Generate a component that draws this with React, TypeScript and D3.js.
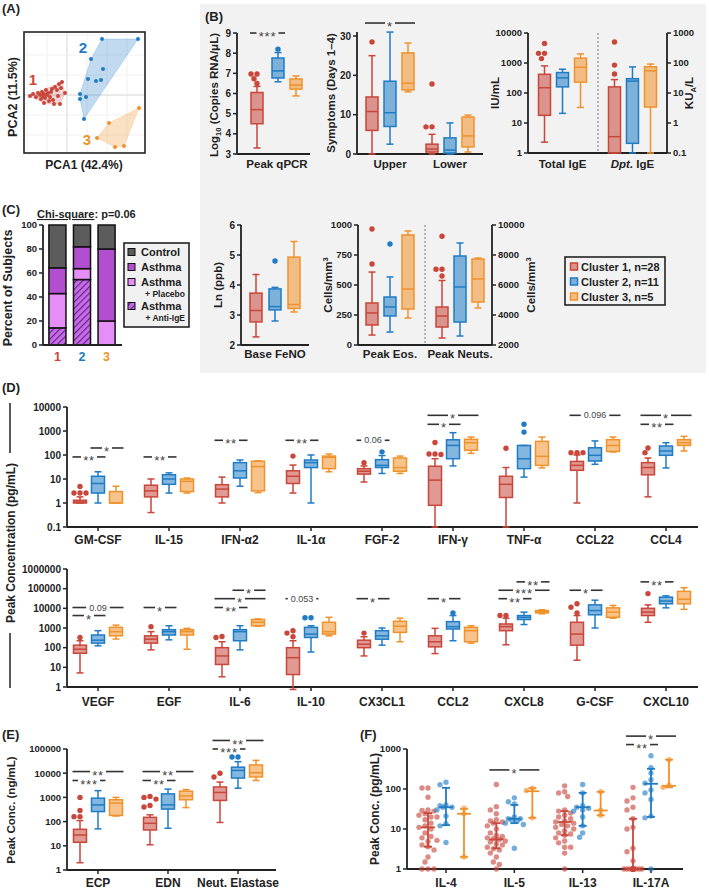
import React from 'react';
import * as d3 from 'd3';

const FONT = '"Liberation Sans", Arial, Helvetica, sans-serif';
const AX = '#222';
const RED = '#c8463a';
const BLUE = '#1f7bc4';
const ORANGE = '#f0922b';
const CL = [RED, BLUE, ORANGE];
const CLUSTERS = ['1', '2', '3'];

type S = { lo: number; q1: number; med: number; q3: number; hi: number; out?: number[] };
type Sg = { c: number; a: number; b: number; v: number; t: string };

// ---------------- Panel A (PCA scores) ----------------
const pcaRed: [number, number][] = [[-1.85,-0.05],[-1.7,0.05],[-1.55,-0.1],[-1.45,0.1],[-1.35,0],[-1.3,-0.2],[-1.25,0.15],[-1.2,-0.05],[-1.15,0.05],[-1.1,-0.15],[-1.05,0.25],[-1,0],[-0.95,0.1],[-0.9,-0.3],[-0.85,-0.1],[-0.8,0.15],[-0.75,0.3],[-0.7,-0.25],[-0.65,-0.45],[-0.6,0.4],[-0.5,0.25],[-0.45,-0.05],[-0.4,0.55],[-0.35,-0.45],[-0.3,0.35],[-0.25,0.65],[-0.1,0.1],[-1.15,-0.4]];
const pcaBlue: [number, number][] = [[1.75,2.8],[3.55,2.8],[1.2,1.8],[1.8,1.3],[1.05,0.8],[1.45,0.7],[1.7,0.75],[0.65,0.05],[0.95,-0.1],[0.65,-0.2],[0.85,-1.2]];
const pcaOrange: [number, number][] = [[1.5,-2.15],[2.1,-1.4],[2.4,-2.6],[2.85,-2.55],[3.6,-0.65]];
const pcaLabelPos: [number, number][] = [[-1.7,0.75],[0.8,2.35],[1.0,-2.25]];

// ---------------- Panel B ----------------
const qpcrStats: S[] = [
  { lo: 3.3, q1: 4.5, med: 5.2, q3: 6.05, hi: 6.35, out: [6.5, 6.73, 6.97, 6.97] },
  { lo: 6.58, q1: 6.77, med: 7.12, q3: 7.76, hi: 8.03, out: [8.2] },
  { lo: 5.88, q1: 6.22, med: 6.42, q3: 6.72, hi: 6.87 },
];
const symUpper: S[] = [
  { lo: 0, q1: 6, med: 10.8, q3: 14.5, hi: 25, out: [28.5] },
  { lo: 2.5, q1: 7, med: 10.5, q3: 18.5, hi: 31 },
  { lo: 15.8, q1: 16.3, med: 18, q3: 25.7, hi: 28.2 },
];
const symLower: S[] = [
  { lo: 0, q1: 0.5, med: 1.25, q3: 2.5, hi: 5, out: [6.9, 6.9, 17.8] },
  { lo: 0, q1: 0.25, med: 1, q3: 4.1, hi: 7.9 },
  { lo: 0.5, q1: 1.8, med: 4.6, q3: 9.4, hi: 9.9 },
];
const totalIgE: S[] = [
  { lo: 2.3, q1: 18, med: 150, q3: 420, hi: 800, out: [1400, 2100, 2100, 4500] },
  { lo: 21, q1: 160, med: 320, q3: 480, hi: 620 },
  { lo: 33, q1: 230, med: 720, q3: 1450, hi: 2000 },
];
const dptIgE: S[] = [
  { lo: 0.1, q1: 0.1, med: 0.35, q3: 16, hi: 28, out: [43, 85, 500] },
  { lo: 0.1, q1: 0.21, med: 25, q3: 30, hi: 74 },
  { lo: 0.1, q1: 3.4, med: 55, q3: 75, hi: 92 },
];
const fenoStats: S[] = [
  { lo: 2.27, q1: 2.77, med: 3.15, q3: 3.73, hi: 4.35 },
  { lo: 2.8, q1: 3.17, med: 3.28, q3: 3.87, hi: 3.92, out: [4.8] },
  { lo: 3.1, q1: 3.22, med: 3.35, q3: 4.93, hi: 5.45 },
];
const eosStats: S[] = [
  { lo: 83, q1: 167, med: 267, q3: 350, hi: 608, out: [675, 967] },
  { lo: 108, q1: 242, med: 317, q3: 400, hi: 567, out: [842] },
  { lo: 225, q1: 300, med: 467, q3: 917, hi: 950 },
];
const neutStats: S[] = [
  { lo: 2467, q1: 3200, med: 3933, q3: 4533, hi: 6300, out: [6600, 7050, 7050, 9250] },
  { lo: 2600, q1: 3533, med: 5867, q3: 7933, hi: 8800 },
  { lo: 4467, q1: 4867, med: 6400, q3: 7733, hi: 7800 },
];
const legendLabels = ['Cluster 1, n=28', 'Cluster 2, n=11', 'Cluster 3, n=5'];

// ---------------- Panel C ----------------
const cGroups = ['1', '2', '3'];
const cAntiIgE = [4, 6, 0];
const cPlacebo = [8, 1, 1];
const cAsthma = [6, 2, 3];
const cControl = [10, 2, 1];
const cTicks = [0, 20, 40, 60, 80, 100];

// ---------------- Panel D ----------------
const dTopCats = ['GM-CSF', 'IL-15', 'IFN-α2', 'IL-1α', 'FGF-2', 'IFN-γ', 'TNF-α', 'CCL22', 'CCL4'];
const dTopTicks = [0.1, 1, 10, 100, 1000, 10000];
const dTopRed: S[] = [
  { lo: 1, q1: 1, med: 1.1, q3: 1.3, hi: 1.8, out: [4.9, 2.6, 2.6, 2.6] },
  { lo: 0.4, q1: 1.8, med: 3.2, q3: 5.5, hi: 10 },
  { lo: 1, q1: 1.8, med: 3.8, q3: 5.8, hi: 12 },
  { lo: 2.6, q1: 6.5, med: 13, q3: 22, hi: 38, out: [90] },
  { lo: 7.5, q1: 16, med: 21, q3: 27, hi: 35, out: [48] },
  { lo: 0.1, q1: 0.8, med: 9, q3: 34, hi: 70, out: [330, 105, 110, 110] },
  { lo: 0.1, q1: 1.7, med: 6, q3: 13, hi: 30, out: [190] },
  { lo: 1, q1: 23, med: 37, q3: 54, hi: 100, out: [125, 125, 125] },
  { lo: 1.8, q1: 15, med: 30, q3: 48, hi: 75, out: [125, 195] },
];
const dTopBlue: S[] = [
  { lo: 1, q1: 2.6, med: 6.5, q3: 13, hi: 20 },
  { lo: 2.6, q1: 6, med: 10, q3: 15, hi: 18 },
  { lo: 5, q1: 11, med: 22, q3: 48, hi: 62 },
  { lo: 1, q1: 30, med: 48, q3: 62, hi: 100 },
  { lo: 17, q1: 30, med: 37, q3: 64, hi: 95, out: [135] },
  { lo: 35, q1: 70, med: 250, q3: 430, hi: 850 },
  { lo: 12, q1: 27, med: 70, q3: 250, hi: 250, out: [900, 1900] },
  { lo: 41, q1: 56, med: 97, q3: 200, hi: 385 },
  { lo: 29, q1: 97, med: 147, q3: 237, hi: 325 },
];
const dTopOrange: S[] = [
  { lo: 1, q1: 1, med: 1, q3: 3, hi: 5 },
  { lo: 2.6, q1: 3, med: 8, q3: 10, hi: 11 },
  { lo: 2.7, q1: 3.2, med: 33, q3: 55, hi: 57 },
  { lo: 20, q1: 27, med: 80, q3: 90, hi: 110 },
  { lo: 17, q1: 21, med: 30, q3: 75, hi: 90 },
  { lo: 117, q1: 157, med: 325, q3: 450, hi: 560 },
  { lo: 29, q1: 37, med: 88, q3: 370, hi: 560 },
  { lo: 133, q1: 141, med: 250, q3: 435, hi: 560 },
  { lo: 147, q1: 250, med: 325, q3: 435, hi: 600 },
];
const dTopSig: Sg[] = [
  { c: 0, a: 0, b: 1, v: 83, t: '**' }, { c: 0, a: 1, b: 2, v: 196, t: '*' },
  { c: 1, a: 0, b: 1, v: 83, t: '**' },
  { c: 2, a: 0, b: 1, v: 410, t: '**' },
  { c: 3, a: 0, b: 1, v: 410, t: '**' },
  { c: 4, a: 0, b: 1, v: 410, t: '0.06' },
  { c: 5, a: 0, b: 1, v: 1900, t: '*' }, { c: 5, a: 0, b: 2, v: 4500, t: '*' },
  { c: 7, a: 0, b: 2, v: 4500, t: '0.096' },
  { c: 8, a: 0, b: 1, v: 1900, t: '**' }, { c: 8, a: 0, b: 2, v: 4500, t: '*' },
];

const dBotCats = ['VEGF', 'EGF', 'IL-6', 'IL-10', 'CX3CL1', 'CCL2', 'CXCL8', 'G-CSF', 'CXCL10'];
const dBotTicks = [1, 10, 100, 1000, 10000, 100000, 1000000];
const dBotRed: S[] = [
  { lo: 5.2, q1: 52, med: 83, q3: 134, hi: 225, out: [330] },
  { lo: 77, q1: 170, med: 270, q3: 400, hi: 650, out: [1170] },
  { lo: 3.3, q1: 14, med: 38, q3: 100, hi: 200, out: [330, 370] },
  { lo: 0.75, q1: 4.3, med: 31, q3: 100, hi: 225, out: [730, 360, 550] },
  { lo: 38, q1: 100, med: 150, q3: 240, hi: 360, out: [550] },
  { lo: 50, q1: 110, med: 200, q3: 400, hi: 960 },
  { lo: 140, q1: 730, med: 1170, q3: 1600, hi: 3150, out: [4300, 4300] },
  { lo: 23, q1: 134, med: 490, q3: 1950, hi: 4300, out: [5900, 11500, 17000] },
  { lo: 1950, q1: 4300, med: 6400, q3: 10000, hi: 15000, out: [56000] },
];
const dBotBlue: S[] = [
  { lo: 124, q1: 170, med: 240, q3: 440, hi: 730 },
  { lo: 250, q1: 440, med: 650, q3: 820, hi: 1300 },
  { lo: 77, q1: 225, med: 650, q3: 820, hi: 1300 },
  { lo: 60, q1: 330, med: 490, q3: 1080, hi: 1300, out: [3300, 3300] },
  { lo: 134, q1: 270, med: 400, q3: 730, hi: 1000 },
  { lo: 225, q1: 890, med: 1170, q3: 2100, hi: 4300, out: [5900] },
  { lo: 1500, q1: 2700, med: 3500, q3: 4300, hi: 6400 },
  { lo: 1000, q1: 4700, med: 7700, q3: 15000, hi: 26000 },
  { lo: 10600, q1: 17000, med: 23500, q3: 37000, hi: 43000 },
];
const dBotOrange: S[] = [
  { lo: 275, q1: 400, med: 650, q3: 1080, hi: 1400 },
  { lo: 83, q1: 440, med: 650, q3: 820, hi: 960 },
  { lo: 1230, q1: 1300, med: 1950, q3: 2700, hi: 2900 },
  { lo: 400, q1: 490, med: 650, q3: 1950, hi: 3500 },
  { lo: 200, q1: 600, med: 1230, q3: 2200, hi: 3150 },
  { lo: 170, q1: 200, med: 730, q3: 1080, hi: 1300 },
  { lo: 5300, q1: 5900, med: 6900, q3: 7700, hi: 8400 },
  { lo: 3150, q1: 3500, med: 6400, q3: 10600, hi: 14000 },
  { lo: 8900, q1: 17000, med: 29000, q3: 73000, hi: 112000 },
];
const dBotSig: Sg[] = [
  { c: 0, a: 0, b: 1, v: 4300, t: '*' }, { c: 0, a: 0, b: 2, v: 11000, t: '0.09' },
  { c: 1, a: 0, b: 1, v: 11000, t: '*' },
  { c: 2, a: 0, b: 1, v: 11000, t: '**' }, { c: 2, a: 0, b: 2, v: 31000, t: '*' }, { c: 2, a: 1, b: 2, v: 83000, t: '*' },
  { c: 3, a: 0, b: 1, v: 31000, t: '0.053' },
  { c: 4, a: 0, b: 1, v: 31000, t: '*' },
  { c: 5, a: 0, b: 1, v: 31000, t: '*' },
  { c: 6, a: 0, b: 1, v: 31000, t: '**' }, { c: 6, a: 0, b: 2, v: 83000, t: '***' }, { c: 6, a: 1, b: 2, v: 222000, t: '**' },
  { c: 7, a: 0, b: 1, v: 83000, t: '*' },
  { c: 8, a: 0, b: 1, v: 222000, t: '**' },
];

// ---------------- Panel E ----------------
const eCats = ['ECP', 'EDN', 'Neut. Elastase'];
const eTicks = [1, 10, 100, 1000, 10000, 100000];
const eRed: S[] = [
  { lo: 2, q1: 14, med: 28, q3: 48, hi: 110, out: [160, 160, 290, 1000] },
  { lo: 11, q1: 45, med: 85, q3: 150, hi: 190, out: [400, 460, 850, 1000, 1100] },
  { lo: 92, q1: 750, med: 1600, q3: 2700, hi: 4300, out: [7000, 10000] },
];
const eBlue: S[] = [
  { lo: 50, q1: 260, med: 490, q3: 930, hi: 1900 },
  { lo: 53, q1: 330, med: 490, q3: 1400, hi: 2200 },
  { lo: 2400, q1: 6300, med: 13000, q3: 17700, hi: 30000, out: [47000, 47000] },
];
const eOrange: S[] = [
  { lo: 170, q1: 180, med: 580, q3: 800, hi: 1000 },
  { lo: 380, q1: 800, med: 1150, q3: 1800, hi: 2100 },
  { lo: 5000, q1: 7000, med: 10500, q3: 22000, hi: 34000 },
];
const eSig: Sg[] = [
  { c: 0, a: 0, b: 1, v: 5000, t: '***' }, { c: 0, a: 0, b: 2, v: 11700, t: '**' },
  { c: 1, a: 0, b: 1, v: 5000, t: '**' }, { c: 1, a: 0, b: 2, v: 11700, t: '**' },
  { c: 2, a: 0, b: 1, v: 100000, t: '***' }, { c: 2, a: 0, b: 2, v: 225000, t: '**' },
];

// ---------------- Panel F ----------------
const fCats = ['IL-4', 'IL-5', 'IL-13', 'IL-17A'];
const fTicks = [1, 10, 100, 1000];
const fRed: number[][] = [
  [106, 106, 62, 30, 29, 28, 24, 22, 20, 20, 17, 14, 12, 11, 10, 8, 6.5, 6, 5.2, 4.9, 4, 3.6, 3, 2, 1.5, 1, 1, 1],
  [130, 36, 30, 24, 17, 16, 15, 14, 12, 10, 8, 7, 6.5, 6, 5.7, 5.5, 5, 4.7, 4.2, 4, 3.5, 3.2, 3, 2.5, 2, 1.5, 1.3, 1],
  [120, 85, 80, 65, 30, 28, 25, 22, 20, 18, 16, 15, 14, 13, 12, 11, 10, 9, 8, 7.5, 7, 6, 5, 4.5, 3.5, 3.5, 2.5, 1],
  [110, 60, 50, 35, 30, 18, 11, 10, 3.3, 2.7, 1.6, 1, 1, 1, 1, 1, 1, 1, 1, 1, 1, 1, 1, 1, 1, 1, 1, 1],
];
const fBlue: number[][] = [
  [147, 128, 40, 38, 35, 35, 30, 21, 13.6, 12, 4.6],
  [60, 48, 42, 20, 18, 18, 17, 16, 14, 13, 3.3],
  [130, 80, 38, 35, 33, 30, 28, 20, 12, 8, 6.2],
  [680, 340, 250, 170, 140, 95, 80, 55, 21, 19, 1],
];
const fOrange: number[][] = [[33, 24, 2], [105, 92, 19], [85, 30, 22], [540, 125, 110]];
// [lower bar, median, upper bar] per cytokine
const fRedBars = [[3.6, 11, 25], [3.3, 5.5, 14], [7, 15, 28], [1, 1, 18]];
const fBlueBars = [[12.5, 35, 107], [14, 18, 40], [12, 35, 80], [20, 135, 320]];
const fOrangeBars = [[2, 24, 32], [19, 88, 105], [22, 29, 85], [110, 120, 540]];
const fSig: Sg[] = [
  { c: 1, a: 0, b: 2, v: 300, t: '*' },
  { c: 3, a: 0, b: 1, v: 1290, t: '**' }, { c: 3, a: 0, b: 2, v: 2100, t: '*' },
];

// ---------------- helpers ----------------
function swarm(ys: number[], r: number, cands: number[]): number[] {
  const order = ys.map((_, i) => i).sort((a, b) => ys[a] - ys[b]);
  const placed: [number, number][] = [];
  const res = new Array(ys.length).fill(0);
  for (const i of order) {
    let best = cands[0];
    let bestD = -1;
    for (const c of cands) {
      let m = Infinity;
      for (const [px, py] of placed) m = Math.min(m, Math.hypot(px - c, py - ys[i]));
      if (m >= 2 * r) { best = c; break; }
      if (m > bestD) { bestD = m; best = c; }
    }
    placed.push([best, ys[i]]);
    res[i] = best;
  }
  return res;
}

function BoxPlot({ cx, y, s, color, w }: { cx: number; y: any; s: S; color: string; w: number }) {
  const h = w / 2;
  const cap = 3.5;
  const outs = s.out ?? [];
  const oy = outs.map((v) => y(v));
  const off = swarm(oy, 2.7, [0, -3, 3, -6, 6, -9, 9]);
  const sw = 1.5;
  return (
    <g>
      <line x1={cx} x2={cx} y1={y(s.lo)} y2={y(s.q1)} stroke={color} strokeWidth={sw} />
      <line x1={cx} x2={cx} y1={y(s.q3)} y2={y(s.hi)} stroke={color} strokeWidth={sw} />
      <line x1={cx - cap} x2={cx + cap} y1={y(s.lo)} y2={y(s.lo)} stroke={color} strokeWidth={sw} />
      <line x1={cx - cap} x2={cx + cap} y1={y(s.hi)} y2={y(s.hi)} stroke={color} strokeWidth={sw} />
      <rect x={cx - h} y={y(s.q3)} width={w} height={Math.max(1, y(s.q1) - y(s.q3))} fill={color} fillOpacity={0.55} stroke={color} strokeWidth={sw} />
      <line x1={cx - h} x2={cx + h} y1={y(s.med)} y2={y(s.med)} stroke={color} strokeWidth={sw} />
      {oy.map((yy, i) => <circle key={i} cx={cx + off[i]} cy={yy} r={2.7} fill={color} />)}
    </g>
  );
}

function Trio({ cx, offs, y, stats, w }: { cx: number; offs: number[]; y: any; stats: S[]; w: number }) {
  return <g>{stats.map((s, k) => <BoxPlot key={k} cx={cx + offs[k]} y={y} s={s} color={CL[k]} w={w} />)}</g>;
}

function Sig({ x1, x2, y, label }: { x1: number; x2: number; y: number; label: string }) {
  const star = /^\*+$/.test(label);
  const fs = star ? 13 : 9;
  const tw = star ? label.length * 6 + 4 : label.length * 4.9 + 4;
  const mx = (x1 + x2) / 2;
  return (
    <g>
      <line x1={x1} x2={mx - tw / 2} y1={y} y2={y} stroke="#333" strokeWidth={1.6} />
      <line x1={mx + tw / 2} x2={x2} y1={y} y2={y} stroke="#333" strokeWidth={1.6} />
      <text x={mx} y={y} dy={star ? '0.62em' : '0.35em'} textAnchor="middle" fontSize={fs} fill="#444" letterSpacing={star ? 0.8 : 0}>{label}</text>
    </g>
  );
}

function SigBars({ sigs, cats, xc, offs, y, w }: { sigs: Sg[]; cats: string[]; xc: any; offs: number[]; y: any; w: number }) {
  return (
    <g>
      {sigs.map((s, i) => {
        const cx = xc(cats[s.c]);
        return <Sig key={i} x1={cx + offs[s.a] - w / 2 - 1} x2={cx + offs[s.b] + w / 2 + 1} y={y(s.v)} label={s.t} />;
      })}
    </g>
  );
}

function YAxis({ x, scale, ticks, labels, side = 'left', fs = 10, ext = 0 }: { x: number; scale: any; ticks: number[]; labels: string[]; side?: string; fs?: number; ext?: number }) {
  const r = scale.range();
  const y0 = Math.min(r[0], r[1]) - ext;
  const y1 = Math.max(r[0], r[1]);
  const dir = side === 'left' ? -1 : 1;
  return (
    <g>
      <line x1={x} x2={x} y1={y0} y2={y1} stroke={AX} strokeWidth={1.8} />
      {ticks.map((t, i) => {
        const yy = scale(t);
        return (
          <g key={i}>
            <line x1={x} x2={x + dir * 4} y1={yy} y2={yy} stroke={AX} strokeWidth={1.5} />
            <text x={x + dir * 6} y={yy} dy="0.35em" textAnchor={side === 'left' ? 'end' : 'start'} fontSize={fs} fontWeight="bold" fill={AX}>{labels[i]}</text>
          </g>
        );
      })}
    </g>
  );
}

function XAxis({ x0, x1, y, xs, labels, ly, fs = 12, ticks = true }: { x0: number; x1: number; y: number; xs: number[]; labels: any[]; ly: number; fs?: number; ticks?: boolean }) {
  return (
    <g>
      <line x1={x0} x2={x1} y1={y} y2={y} stroke={AX} strokeWidth={1.8} />
      {xs.map((x, i) => (
        <g key={i}>
          {ticks && <line x1={x} x2={x} y1={y} y2={y + 4} stroke={AX} strokeWidth={1.5} />}
          <text x={x} y={ly} textAnchor="middle" fontSize={fs} fontWeight="bold" fill={AX}>{labels[i]}</text>
        </g>
      ))}
    </g>
  );
}

function VText({ x, y, fs = 12, children }: { x: number; y: number; fs?: number; children: any }) {
  return (
    <text transform={`translate(${x},${y}) rotate(-90)`} textAnchor="middle" dy="0.35em" fontSize={fs} fontWeight="bold" fill={AX}>
      {children}
    </text>
  );
}

const fmt = (v: number) => String(v);

export default function App() {
  const offScale = d3.scalePoint<string>().domain(CLUSTERS).range([-18, 18]);
  const offs = CLUSTERS.map((c) => offScale(c) as number);

  // Panel A
  const xA = d3.scaleLinear().domain([-2.15, 3.9]).range([24, 145]);
  const yA = d3.scaleLinear().domain([-2.9, 3.15]).range([153, 32]);
  const pcaSets = [pcaRed, pcaBlue, pcaOrange].map((pts) => pts.map((p) => [xA(p[0]), yA(p[1])] as [number, number]));

  // Panel B scales
  const xB1 = d3.scalePoint<string>().domain(['Peak qPCR']).range([237, 317]);
  const yB1 = d3.scaleLinear().domain([3, 9]).range([154, 33]);
  const xB2 = d3.scalePoint<string>().domain(['Upper', 'Lower']).range([357, 483]).padding(0.55);
  const yB2 = d3.scaleLinear().domain([0, 30]).range([154, 36]);
  const xB3 = d3.scalePoint<string>().domain(['Total IgE', 'Dpt. IgE']).range([528, 667]).padding(0.493);
  const yB3L = d3.scaleLog().domain([1, 10000]).range([153, 33]);
  const yB3R = d3.scaleLog().domain([0.1, 1000]).range([153, 33]);
  const xB4 = d3.scalePoint<string>().domain(['Base FeNO']).range([241, 309]);
  const yB4 = d3.scaleLinear().domain([2, 6]).range([345, 225]);
  const xB5 = d3.scalePoint<string>().domain(['Peak Eos.', 'Peak Neuts.']).range([358, 492]).padding(0.457);
  const yB5L = d3.scaleLinear().domain([0, 1000]).range([345, 225]);
  const yB5R = d3.scaleLinear().domain([2000, 10000]).range([345, 225]);

  // Panel C
  const cRows = cGroups.map((g, i) => {
    const tot = cAntiIgE[i] + cPlacebo[i] + cAsthma[i] + cControl[i];
    return { g, anti: (100 * cAntiIgE[i]) / tot, placebo: (100 * cPlacebo[i]) / tot, asthma: (100 * cAsthma[i]) / tot, control: (100 * cControl[i]) / tot };
  });
  const cKeys = ['anti', 'placebo', 'asthma', 'control'];
  const cFill: Record<string, string> = { anti: 'url(#hatch)', placebo: '#e58ef5', asthma: '#b24fd0', control: '#5c5c5c' };
  const stackC = d3.stack<any>().keys(cKeys)(cRows);
  const xC = d3.scaleBand<string>().domain(cGroups).range([44, 120]).paddingInner(0.306).paddingOuter(0.2);
  const yC = d3.scaleLinear().domain([0, 100]).range([345, 225]);

  // Panel D
  const xD = d3.scalePoint<string>().domain(dTopCats).range([98, 666]);
  const xDb = d3.scalePoint<string>().domain(dBotCats).range([98, 666]);
  const yDT = d3.scaleLog().domain([0.1, 10000]).range([527, 407]);
  const yDB = d3.scaleLog().domain([1, 1000000]).range([687, 569]);

  // Panel E
  const xE = d3.scalePoint<string>().domain(eCats).range([98, 238]);
  const yE = d3.scaleLog().domain([1, 100000]).range([870, 749]);

  // Panel F
  const xF = d3.scalePoint<string>().domain(fCats).range([446, 651]);
  const yF = d3.scaleLog().domain([1, 1000]).range([869, 749]);

  const lbl = (x: number, y: number, t: string) => (
    <text x={x} y={y} fontSize={13} fontWeight="bold" fill={AX}>{t}</text>
  );
  const q = xB1('Peak qPCR') as number;

  return (
    <svg width={709} height={890} style={{ position: 'absolute', left: 0, top: 0, background: '#fff' }} fontFamily={FONT}>
      <defs>
        <pattern id="hatch" width="4.5" height="4.5" patternUnits="userSpaceOnUse" patternTransform="rotate(45)">
          <rect width="4.5" height="4.5" fill="#c86be6" />
          <line x1="0" y1="0" x2="0" y2="4.5" stroke="#5e2380" strokeWidth="2.2" />
        </pattern>
      </defs>

      {/* ================= Panel A ================= */}
      {lbl(2, 13, '(A)')}
      <rect x={24} y={32} width={121} height={121} fill="#fff" />
      {d3.range(-2, 4).map((t) => (
        <line key={'gx' + t} x1={xA(t)} x2={xA(t)} y1={32} y2={153} stroke={t === 0 ? '#d4d4d4' : '#f1f1f1'} strokeWidth={1} />
      ))}
      {d3.range(-2, 4).map((t) => (
        <line key={'gy' + t} x1={24} x2={145} y1={yA(t)} y2={yA(t)} stroke={t === 0 ? '#d4d4d4' : '#f1f1f1'} strokeWidth={1} />
      ))}
      {pcaSets.map((pts, k) => {
        const hull = d3.polygonHull(pts);
        return (
          <g key={k}>
            {hull && <path d={'M' + hull.map((p) => p.join(',')).join('L') + 'Z'} fill={CL[k]} fillOpacity={k === 0 ? 0.22 : 0.28} stroke={CL[k]} strokeOpacity={0.25} strokeWidth={0.8} />}
            {pts.map((p, i) => <circle key={i} cx={p[0]} cy={p[1]} r={2} fill={CL[k]} />)}
          </g>
        );
      })}
      {pcaLabelPos.map((p, k) => (
        <text key={k} x={xA(p[0])} y={yA(p[1])} dy="0.35em" textAnchor="middle" fontSize={15} fontWeight="bold" fill={CL[k]}>{CLUSTERS[k]}</text>
      ))}
      <rect x={24} y={32} width={121} height={121} fill="none" stroke={AX} strokeWidth={1.6} />
      <VText x={13} y={97} fs={12.5}>PCA2 (11.5%)</VText>
      <text x={84} y={169} textAnchor="middle" fontSize={12} fontWeight="bold" fill={AX}>PCA1 (42.4%)</text>

      {/* ================= Panel B ================= */}
      <rect x={200} y={4} width={506} height={369} fill="#f2f2f2" />
      {lbl(205, 21, '(B)')}

      {/* B1 qPCR */}
      <YAxis x={237} scale={yB1} ticks={[3, 4, 5, 6, 7, 8, 9]} labels={['3', '4', '5', '6', '7', '8', '9']} fs={10} />
      <XAxis x0={237} x1={310} y={154} xs={[q]} labels={['Peak qPCR']} ly={168} fs={11.5} ticks={false} />
      <Trio cx={q} offs={[-20, 1, 19]} y={yB1} stats={qpcrStats} w={12} />
      <Sig x1={q - 27} x2={q + 8} y={yB1(9)} label="***" />
      <VText x={214} y={95} fs={11.5}>
        <tspan>Log</tspan><tspan fontSize={7.5} dy={3}>10</tspan><tspan dy={-3}> (Copies RNA/μL)</tspan>
      </VText>

      {/* B2 symptoms */}
      <YAxis x={357} scale={yB2} ticks={[0, 10, 20, 30]} labels={['0', '10', '20', '30']} fs={10} ext={4} />
      <XAxis x0={357} x1={483} y={154} xs={['Upper', 'Lower'].map((c) => xB2(c) as number)} labels={['Upper', 'Lower']} ly={168} fs={11.5} ticks={false} />
      <Trio cx={xB2('Upper') as number} offs={offs} y={yB2} stats={symUpper} w={12} />
      <Trio cx={xB2('Lower') as number} offs={offs} y={yB2} stats={symLower} w={12} />
      <SigBars sigs={[{ c: 0, a: 0, b: 2, v: 33.3, t: '*' }]} cats={['Upper']} xc={xB2} offs={offs} y={yB2} w={12} />
      <VText x={331} y={93} fs={11.5}>Symptoms (Days 1–4)</VText>

      {/* B3 IgE */}
      <YAxis x={528} scale={yB3L} ticks={[1, 10, 100, 1000, 10000]} labels={['1', '10', '100', '1000', '10000']} fs={9.5} />
      <YAxis x={667} scale={yB3R} ticks={[0.1, 1, 10, 100, 1000]} labels={['0.1', '1', '10', '100', '1000']} side="right" fs={9.5} />
      <line x1={598} x2={598} y1={33} y2={153} stroke="#8a8a8a" strokeWidth={1.2} strokeDasharray="2,2" />
      <XAxis x0={528} x1={667} y={153} xs={['Total IgE', 'Dpt. IgE'].map((c) => xB3(c) as number)} labels={['Total IgE', <tspan key="d"><tspan fontStyle="italic">Dpt.</tspan> IgE</tspan>]} ly={168} fs={11.5} ticks={false} />
      <Trio cx={xB3('Total IgE') as number} offs={offs} y={yB3L} stats={totalIgE} w={12} />
      <Trio cx={xB3('Dpt. IgE') as number} offs={offs} y={yB3R} stats={dptIgE} w={12} />
      <VText x={495} y={93} fs={11.5}>IU/mL</VText>
      <VText x={689} y={93} fs={11.5}>
        <tspan>KU</tspan><tspan fontSize={7.5} dy={3}>A</tspan><tspan dy={-3}>/L</tspan>
      </VText>

      {/* B4 FeNO */}
      <YAxis x={241} scale={yB4} ticks={[2, 3, 4, 5, 6]} labels={['2', '3', '4', '5', '6']} fs={10} />
      <XAxis x0={241} x1={309} y={345} xs={[xB4('Base FeNO') as number]} labels={['Base FeNO']} ly={358} fs={11.5} ticks={false} />
      <Trio cx={xB4('Base FeNO') as number} offs={[-19, 0, 19]} y={yB4} stats={fenoStats} w={12} />
      <VText x={218} y={285} fs={11.5}>Ln (ppb)</VText>

      {/* B5 cells */}
      <YAxis x={358} scale={yB5L} ticks={[0, 250, 500, 750, 1000]} labels={['0', '250', '500', '750', '1000']} fs={9.5} />
      <YAxis x={492} scale={yB5R} ticks={[2000, 4000, 6000, 8000, 10000]} labels={['2000', '4000', '6000', '8000', '10000']} side="right" fs={9.5} />
      <line x1={425} x2={425} y1={225} y2={345} stroke="#8a8a8a" strokeWidth={1.2} strokeDasharray="2,2" />
      <XAxis x0={358} x1={492} y={345} xs={['Peak Eos.', 'Peak Neuts.'].map((c) => xB5(c) as number)} labels={['Peak Eos.', 'Peak Neuts.']} ly={358} fs={11.5} ticks={false} />
      <Trio cx={xB5('Peak Eos.') as number} offs={offs} y={yB5L} stats={eosStats} w={12} />
      <Trio cx={xB5('Peak Neuts.') as number} offs={offs} y={yB5R} stats={neutStats} w={12} />
      <VText x={328} y={285} fs={11.5}>
        <tspan>Cells/mm</tspan><tspan fontSize={7.5} dy={-4}>3</tspan>
      </VText>
      <VText x={531} y={285} fs={11.5}>
        <tspan>Cells/mm</tspan><tspan fontSize={7.5} dy={-4}>3</tspan>
      </VText>

      {/* B legend */}
      <rect x={565} y={257} width={100} height={48} fill="#f2f2f2" stroke={AX} strokeWidth={1.6} />
      {legendLabels.map((t, k) => (
        <g key={k}>
          <rect x={570.5} y={263 + k * 15} width={7} height={7} fill={CL[k]} fillOpacity={0.55} stroke={CL[k]} strokeWidth={1.5} />
          <text x={581} y={270.5 + k * 15} fontSize={11} fontWeight="bold" fill={AX}>{t}</text>
        </g>
      ))}

      {/* ================= Panel C ================= */}
      {lbl(2, 214, '(C)')}
      <text x={37} y={218} fontSize={11} fontWeight="bold" fill={AX}>
        <tspan textDecoration="underline">Chi-square</tspan>
        <tspan>: p=0.06</tspan>
      </text>
      {stackC.map((layer) => (
        <g key={layer.key}>
          {layer.map((d, i) => (d[1] - d[0] > 0 ? (
            <rect key={i} x={xC(cGroups[i])} y={yC(d[1])} width={xC.bandwidth()} height={yC(d[0]) - yC(d[1])} fill={cFill[layer.key]} stroke="#111" strokeWidth={1.5} />
          ) : null))}
        </g>
      ))}
      <YAxis x={43} scale={yC} ticks={cTicks} labels={cTicks.map(fmt)} fs={9.5} />
      <line x1={43} x2={122} y1={345} y2={345} stroke={AX} strokeWidth={1.8} />
      {cGroups.map((g, i) => (
        <text key={g} x={(xC(g) as number) + xC.bandwidth() / 2} y={361} textAnchor="middle" fontSize={12.5} fontWeight="bold" fill={CL[i]}>{g}</text>
      ))}
      <VText x={8} y={288} fs={12.5}>Percent of Subjects</VText>
      <rect x={124} y={243} width={65} height={84} fill="#f0f0f0" stroke={AX} strokeWidth={1.6} />
      {[
        { f: '#5c5c5c', t: 'Control', y: 252, sub: '' },
        { f: '#b24fd0', t: 'Asthma', y: 267, sub: '' },
        { f: '#e58ef5', t: 'Asthma', y: 282, sub: '+ Placebo' },
        { f: 'url(#hatch)', t: 'Asthma', y: 306, sub: '+ Anti-IgE' },
      ].map((e, i) => (
        <g key={i}>
          <rect x={128} y={e.y - 3.5} width={7} height={7} fill={e.f} stroke="#111" strokeWidth={1} />
          <text x={141} y={e.y + 4} fontSize={11} fontWeight="bold" fill={AX}>{e.t}</text>
          {e.sub && <text x={185} y={e.y + 15} textAnchor="end" fontSize={8.5} fontWeight="bold" fill={AX}>{e.sub}</text>}
        </g>
      ))}

      {/* ================= Panel D ================= */}
      {lbl(2, 392, '(D)')}
      <line x1={10} x2={10} y1={403} y2={453} stroke={AX} strokeWidth={1.5} />
      <line x1={10} x2={10} y1={633} y2={688} stroke={AX} strokeWidth={1.5} />
      <VText x={11} y={543} fs={12}>Peak Concentration (pg/mL)</VText>

      <YAxis x={67} scale={yDT} ticks={dTopTicks} labels={dTopTicks.map(fmt)} fs={10} />
      <XAxis x0={67} x1={698} y={527} xs={dTopCats.map((c) => xD(c) as number)} labels={dTopCats} ly={544} fs={12} />
      {dTopCats.map((c, i) => (
        <Trio key={c} cx={xD(c) as number} offs={offs} y={yDT} stats={[dTopRed[i], dTopBlue[i], dTopOrange[i]]} w={13} />
      ))}
      <SigBars sigs={dTopSig} cats={dTopCats} xc={xD} offs={offs} y={yDT} w={13} />

      <YAxis x={67} scale={yDB} ticks={dBotTicks} labels={dBotTicks.map(fmt)} fs={10} />
      <XAxis x0={67} x1={698} y={687} xs={dBotCats.map((c) => xDb(c) as number)} labels={dBotCats} ly={706} fs={12} />
      {dBotCats.map((c, i) => (
        <Trio key={c} cx={xDb(c) as number} offs={offs} y={yDB} stats={[dBotRed[i], dBotBlue[i], dBotOrange[i]]} w={13} />
      ))}
      <SigBars sigs={dBotSig} cats={dBotCats} xc={xDb} offs={offs} y={yDB} w={13} />

      {/* ================= Panel E ================= */}
      {lbl(2, 739, '(E)')}
      <YAxis x={67} scale={yE} ticks={eTicks} labels={eTicks.map(fmt)} fs={9.5} />
      <XAxis x0={67} x1={276} y={870} xs={eCats.map((c) => xE(c) as number)} labels={eCats} ly={887} fs={12} />
      {eCats.map((c, i) => (
        <Trio key={c} cx={xE(c) as number} offs={offs} y={yE} stats={[eRed[i], eBlue[i], eOrange[i]]} w={13} />
      ))}
      <SigBars sigs={eSig} cats={eCats} xc={xE} offs={offs} y={yE} w={13} />
      <VText x={11} y={810} fs={11.5}>Peak Conc. (ng/mL)</VText>

      {/* ================= Panel F ================= */}
      {lbl(360, 739, '(F)')}
      <YAxis x={407} scale={yF} ticks={fTicks} labels={fTicks.map(fmt)} fs={9.5} />
      <XAxis x0={407} x1={683} y={869} xs={fCats.map((c) => xF(c) as number)} labels={fCats} ly={887} fs={12} />
      {fCats.map((c, ci) => {
        const sets = [fRed[ci], fBlue[ci], fOrange[ci]];
        const bars = [fRedBars[ci], fBlueBars[ci], fOrangeBars[ci]];
        return (
          <g key={c}>
            {sets.map((vals, k) => {
              const cx = (xF(c) as number) + offs[k];
              const ys = vals.map((v) => yF(v));
              const jit = swarm(ys, 2.6, [0, -3, 3, -6, 6, -9, 9]);
              const [lo, med, hi] = bars[k];
              return (
                <g key={k}>
                  {ys.map((yy, i) => <circle key={i} cx={cx + jit[i]} cy={yy} r={2.7} fill={CL[k]} fillOpacity={0.62} />)}
                  <line x1={cx} x2={cx} y1={yF(lo)} y2={yF(hi)} stroke={CL[k]} strokeWidth={1.8} />
                  <line x1={cx - 4} x2={cx + 4} y1={yF(lo)} y2={yF(lo)} stroke={CL[k]} strokeWidth={1.8} />
                  <line x1={cx - 4} x2={cx + 4} y1={yF(hi)} y2={yF(hi)} stroke={CL[k]} strokeWidth={1.8} />
                  <line x1={cx - 7} x2={cx + 7} y1={yF(med)} y2={yF(med)} stroke={CL[k]} strokeWidth={1.8} />
                </g>
              );
            })}
          </g>
        );
      })}
      <SigBars sigs={fSig} cats={fCats} xc={xF} offs={offs} y={yF} w={12} />
      <VText x={375} y={809} fs={12}>Peak Conc. (pg/mL)</VText>
    </svg>
  );
}
